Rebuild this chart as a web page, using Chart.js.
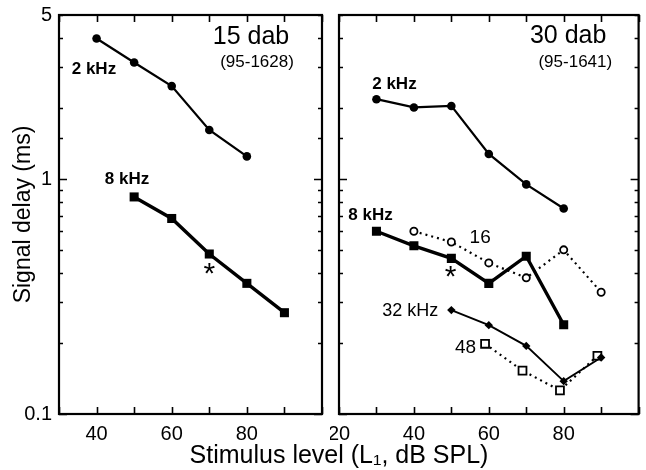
<!DOCTYPE html>
<html>
<head>
<meta charset="utf-8">
<script src="https://cdn.jsdelivr.net/npm/chart.js@4.4.0/dist/chart.umd.min.js"></script>
<style>
body{margin:0;background:#fff;}
#wrap{position:relative;width:646px;height:470px;overflow:hidden;}
#left{position:absolute;left:0;top:0;}
#right{position:absolute;left:330px;top:0;}
#xtitle{position:absolute;left:0;width:678px;top:440px;text-align:center;font:25px "Liberation Sans",Arial,sans-serif;color:#000;line-height:29px;}
</style>
</head>
<body>
<div id="wrap">
<canvas id="left" width="330" height="470"></canvas>
<canvas id="right" width="316" height="470"></canvas>
<div id="xtitle">Stimulus level (L₁, dB SPL)</div>
</div>
<script>
// 15 dab (95-1628)
const lvl15_2k = [40, 50, 60, 70, 80];
const delay15_2k = [3.97, 3.14, 2.49, 1.62, 1.25];
const lvl15_8k = [50, 60, 70, 80, 90];
const delay15_8k = [0.84, 0.68, 0.48, 0.36, 0.27];

// 30 dab (95-1641)
const lvl30_2k = [30, 40, 50, 60, 70, 80];
const delay30_2k = [2.19, 2.02, 2.05, 1.28, 0.95, 0.75];
const lvl30_8k = [30, 40, 50, 60, 70, 80];
const delay30_8k = [0.60, 0.52, 0.46, 0.36, 0.47, 0.24];
const lvl30_16k = [40, 50, 60, 70, 80, 90];
const delay30_16k = [0.60, 0.54, 0.44, 0.38, 0.50, 0.33];
const lvl30_32k = [50, 60, 70, 80, 90];
const delay30_32k = [0.277, 0.239, 0.195, 0.138, 0.174];
const lvl30_48k = [59, 69, 79, 89];
const delay30_48k = [0.199, 0.153, 0.126, 0.177];

const yTickLabels = [0.1, 1, 5];
const xTickLabels = [20, 40, 60, 80];

const FONT = '"Liberation Sans", Arial, Helvetica, sans-serif';

function pts(xs, ys) {
    return xs.map((x, i) => ({x: x, y: ys[i]}));
}

// text notes placed in data space: [text, level, delay, size, bold]
const notesLeft = [
    ['15 dab', 81.1, 4.02, 25, false],
    ['(95-1628)', 82.7, 3.15, 17, false],
    ['2 kHz', 39.3, 2.94, 17, true],
    ['8 kHz', 48.1, 1.0, 17, true],
    ['*', 70, 0.392, 30, false]
];
const notesRight = [
    ['30 dab', 81.2, 4.06, 25, false],
    ['(95-1641)', 83.1, 3.15, 17, false],
    ['2 kHz', 34.8, 2.54, 17, true],
    ['8 kHz', 28.4, 0.703, 17, true],
    ['16', 57.7, 0.561, 19, false],
    ['*', 49.8, 0.38, 30, false],
    ['32 kHz', 39.0, 0.274, 18, false],
    ['48', 53.8, 0.191, 19, false]
];

const framePlugin = {
    id: 'frame',
    afterDraw(chart) {
        const ctx = chart.ctx;
        const a = chart.chartArea;
        const xs = chart.scales.x, ys = chart.scales.y;
        ctx.save();
        ctx.strokeStyle = '#000';
        ctx.lineWidth = 1.6;
        ctx.beginPath();
        xs.ticks.forEach(t => {
            const px = Math.round(xs.getPixelForValue(t.value)) + 0.5;
            ctx.moveTo(px, a.bottom); ctx.lineTo(px, a.bottom - 7);
            ctx.moveTo(px, a.top); ctx.lineTo(px, a.top + 7);
        });
        ys.ticks.forEach(t => {
            const v = +t.value.toPrecision(3);
            const major = Math.abs(Math.log10(v) - Math.round(Math.log10(v))) < 1e-6;
            const len = major ? 8 : 4;
            const py = Math.round(ys.getPixelForValue(v)) + 0.5;
            ctx.moveTo(a.left, py); ctx.lineTo(a.left + len, py);
            ctx.moveTo(a.right, py); ctx.lineTo(a.right - len, py);
        });
        ctx.stroke();
        ctx.lineWidth = 2.2;
        ctx.strokeRect(a.left, a.top, a.right - a.left, a.bottom - a.top);

        const notes = chart.options.plugins.frame.notes || [];
        ctx.fillStyle = '#000';
        ctx.textAlign = 'center';
        ctx.textBaseline = 'middle';
        notes.forEach(n => {
            ctx.font = (n[4] ? 'bold ' : '') + n[3] + 'px ' + FONT;
            ctx.fillText(n[0], xs.getPixelForValue(n[1]), ys.getPixelForValue(n[2]));
        });
        ctx.restore();
    }
};

function makeOptions(xMin, showY, notes, yWidth, padRight) {
    return {
        responsive: false,
        animation: false,
        layout: {padding: {top: 15, right: padRight, left: 0, bottom: 0}},
        plugins: {
            legend: {display: false},
            tooltip: {enabled: false},
            frame: {notes: notes}
        },
        scales: {
            x: {
                type: 'linear',
                min: xMin,
                max: 100,
                grid: {display: false, drawTicks: false},
                border: {display: false},
                ticks: {
                    stepSize: 10,
                    autoSkip: false,
                    maxRotation: 0,
                    padding: 8,
                    color: '#000',
                    font: {family: FONT, size: 20},
                    callback: v => xTickLabels.includes(v) ? String(v) : ''
                },
                afterFit: s => {
                    s.height = 56;
                    s.paddingLeft = 0;
                    s.paddingRight = 0;
                }
            },
            y: {
                type: 'logarithmic',
                min: 0.1,
                max: 5,
                grid: {display: false, drawTicks: false},
                border: {display: false},
                title: {
                    display: showY,
                    text: 'Signal delay (ms)',
                    color: '#000',
                    font: {family: FONT, size: 23},
                    padding: {top: 10, bottom: 0}
                },
                ticks: {
                    display: showY,
                    autoSkip: false,
                    padding: 7,
                    color: '#000',
                    font: {family: FONT, size: 20},
                    callback: v => {
                        const r = +Number(v).toPrecision(3);
                        return yTickLabels.includes(r) ? String(r) : '';
                    }
                },
                afterFit: s => {
                    s.width = yWidth;
                    s.paddingTop = 0;
                    s.paddingBottom = 0;
                }
            }
        }
    };
}

const solidCircle = {
    borderColor: '#000', backgroundColor: '#000', borderWidth: 2.2,
    pointStyle: 'circle', pointRadius: 4.3, pointBorderWidth: 0
};
const solidSquare = {
    borderColor: '#000', backgroundColor: '#000', borderWidth: 3.4,
    pointStyle: 'rect', pointRadius: 6.4, pointBorderWidth: 0
};

new Chart(document.getElementById('left'), {
    type: 'line',
    data: {
        datasets: [
            Object.assign({label: '2 kHz', data: pts(lvl15_2k, delay15_2k)}, solidCircle),
            Object.assign({label: '8 kHz', data: pts(lvl15_8k, delay15_8k)}, solidSquare)
        ]
    },
    options: makeOptions(30, true, notesLeft, 59, 8),
    plugins: [framePlugin]
});

new Chart(document.getElementById('right'), {
    type: 'line',
    data: {
        datasets: [
            Object.assign({label: '2 kHz', data: pts(lvl30_2k, delay30_2k)}, solidCircle),
            Object.assign({label: '8 kHz', data: pts(lvl30_8k, delay30_8k)}, solidSquare),
            {
                label: '16 kHz', data: pts(lvl30_16k, delay30_16k),
                borderColor: '#000', backgroundColor: '#fff', borderWidth: 2.2, borderDash: [2, 4],
                pointStyle: 'circle', pointRadius: 3.6, pointBorderWidth: 1.8
            },
            {
                label: '32 kHz', data: pts(lvl30_32k, delay30_32k),
                borderColor: '#000', backgroundColor: '#000', borderWidth: 1.9,
                pointStyle: 'rectRot', pointRadius: 4.2, pointBorderWidth: 0
            },
            {
                label: '48 kHz', data: pts(lvl30_48k, delay30_48k),
                borderColor: '#000', backgroundColor: '#fff', borderWidth: 2.2, borderDash: [2, 4],
                pointStyle: 'rect', pointRadius: 5.6, pointBorderWidth: 1.8
            }
        ]
    },
    options: makeOptions(20, false, notesRight, 9, 4),
    plugins: [framePlugin]
});
</script>
</body>
</html>
